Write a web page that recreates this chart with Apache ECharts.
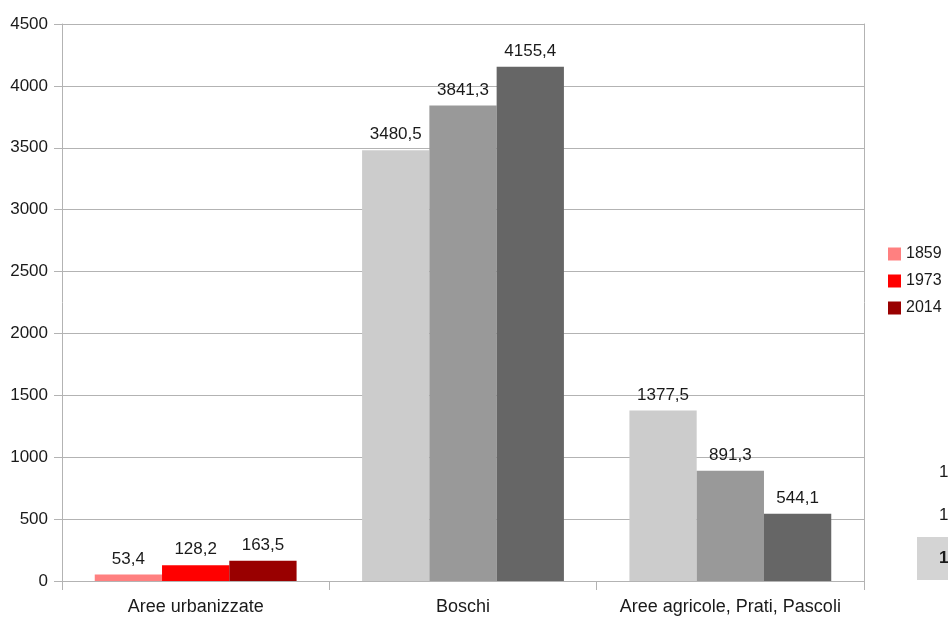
<!DOCTYPE html>
<html><head><meta charset="utf-8">
<script src="https://cdn.jsdelivr.net/npm/echarts@6/dist/echarts.min.js"></script>
<style>html,body{margin:0;padding:0;background:#fff;}#c{width:948px;height:619px;}</style>
</head><body><div id="c"></div>
<script>
const categories = ['Aree urbanizzate', 'Boschi', 'Aree agricole, Prati, Pascoli'];
const years = ['1859', '1973', '2014'];
const values1859 = [53.4, 3480.5, 1377.5];
const values1973 = [128.2, 3841.3, 891.3];
const values2014 = [163.5, 4155.4, 544.1];
const yTicks = [0, 500, 1000, 1500, 2000, 2500, 3000, 3500, 4000, 4500];

const redShades = ['#ff8080', '#ff0000', '#990000'];
const greyShades = ['#cccccc', '#999999', '#666666'];
const allValues = [values1859, values1973, values2014];
const FONT = 'Liberation Sans';
const fmt = v => String(v).replace('.', ',');

const series = years.map((y, i) => ({
  name: y,
  type: 'bar',
  barGap: '0%',
  barCategoryGap: '24.5%',
  itemStyle: { color: redShades[i] },
  label: { show: true, position: 'top', distance: 7, color: '#1a1a1a', fontFamily: FONT, fontSize: 17,
           formatter: p => fmt(p.value) },
  data: allValues[i].map((v, j) => ({
    value: v,
    itemStyle: { color: j === 0 ? redShades[i] : greyShades[i] }
  }))
}));

const chart = echarts.init(document.getElementById('c'), null, { renderer: 'canvas' });
chart.setOption({
  animation: false,
  backgroundColor: '#fff',
  grid: { left: 62, right: 84, top: 24, bottom: 38, containLabel: false },
  legend: {
    orient: 'vertical', left: 888, top: 246, itemWidth: 13, itemHeight: 13, itemGap: 11,
    icon: 'rect', textStyle: { fontFamily: FONT, fontSize: 16, color: '#1a1a1a' }, padding: 0,
    data: years
  },
  xAxis: {
    type: 'category', data: categories,
    axisLine: { lineStyle: { color: '#b3b3b3' } },
    axisTick: { show: true, interval: 0, length: 9, lineStyle: { color: '#b3b3b3' } },
    axisLabel: { interval: 0, hideOverlap: false, color: '#1a1a1a', fontFamily: FONT, fontSize: 18, margin: 17 }
  },
  yAxis: [{
    type: 'value', min: 0, max: 4500, interval: 500,
    axisLine: { show: true, lineStyle: { color: '#b3b3b3' } },
    axisTick: { show: true, length: 8, lineStyle: { color: '#b3b3b3' } },
    axisLabel: { color: '#1a1a1a', fontFamily: FONT, fontSize: 17, margin: 14,
                 formatter: v => yTicks.includes(v) ? String(v) : '' },
    splitLine: { lineStyle: { color: '#b3b3b3' } }
  }, {
    type: 'value', min: 0, max: 4500, interval: 500, position: 'right',
    axisLine: { show: true, lineStyle: { color: '#b3b3b3' } },
    axisTick: { show: false }, axisLabel: { show: false }, splitLine: { show: false }
  }],
  graphic: [
    { type: 'rect', shape: { x: 917, y: 537, width: 40, height: 43 }, style: { fill: '#d4d4d4' } },
    { type: 'text', x: 939, y: 472, style: { text: '1', font: '17px "Liberation Sans"', fill: '#1a1a1a', verticalAlign: 'middle' } },
    { type: 'text', x: 939, y: 515, style: { text: '1', font: '17px "Liberation Sans"', fill: '#1a1a1a', verticalAlign: 'middle' } },
    { type: 'text', x: 939, y: 558, style: { text: '1', font: 'bold 17px "Liberation Sans"', fill: '#1a1a1a', verticalAlign: 'middle' } }
  ],
  series: series
});
</script></body></html>
